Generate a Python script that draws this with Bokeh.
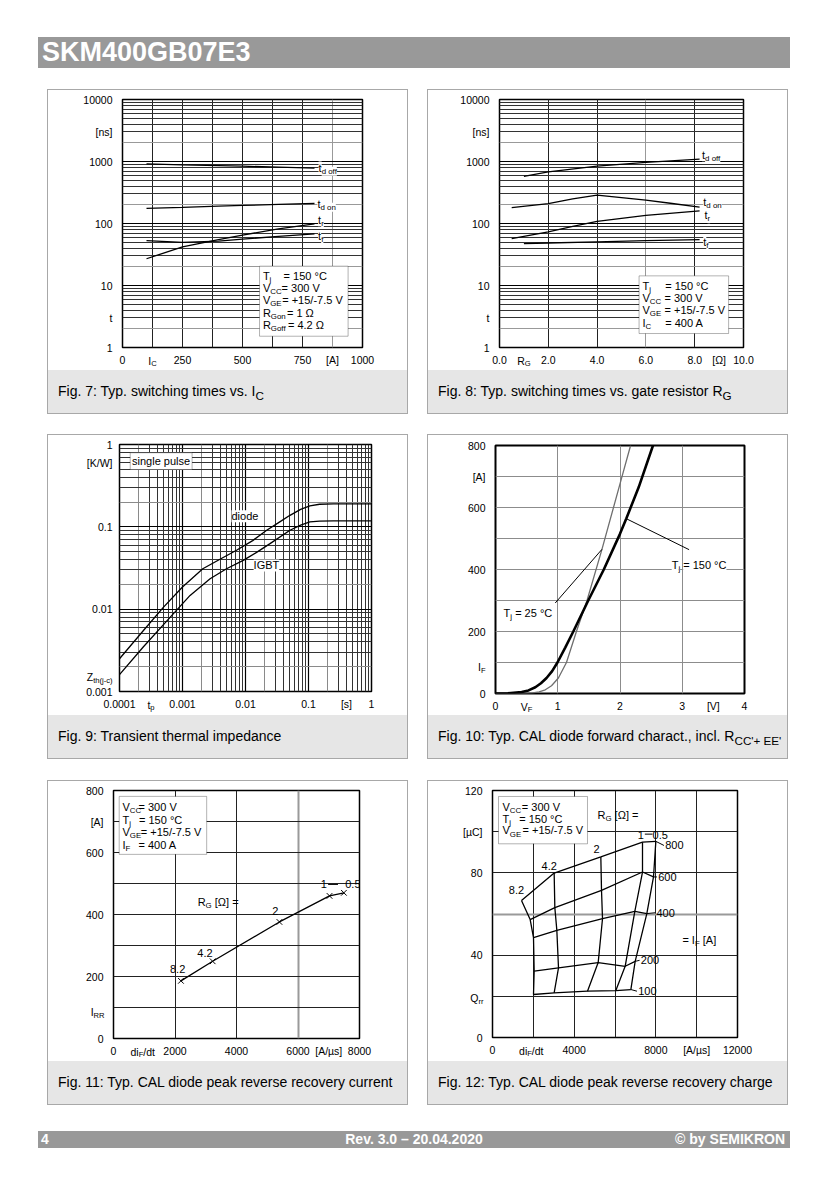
import math
from bokeh.plotting import figure
from bokeh.models import Label, BoxAnnotation, FixedTicker, Grid, Div, Range1d
from bokeh.layouts import column, row
from bokeh.embed import file_html
from bokeh.resources import INLINE

FONT = "Liberation Sans"
TICK = 10.5
TXT = 11

# ---------------- data ----------------
# Fig. 7  switching times vs I_C (Tj=150C)
ic_A = [100, 250, 400, 500, 650, 800]
td_off_ic = [916, 880, 855, 840, 810, 780]
td_on_ic = [175, 182, 190, 196, 203, 210]
tr_ic = [27, 42, 55, 65, 82, 99]
tf_ic = [53, 49.5, 52, 56, 62, 68]

# Fig. 8  switching times vs R_G
rg_off = [1, 2, 4, 6, 8.2]
td_off_rg = [575, 680, 841, 966, 1090]
rg_on = [0.5, 2, 3, 4, 5, 6, 7, 8.2]
td_on_rg = [180, 210, 250, 286, 262, 238, 212, 183]
rg_r = [0.5, 2, 3, 4, 6, 8.2]
tr_rg = [57, 73, 90, 108, 135, 160]
rg_f = [1, 2, 4, 6, 8.2]
tf_rg = [47.5, 48.5, 50.5, 53, 55]

# Fig. 9  transient thermal impedance
tp_diode = [1e-4, 2.4e-4, 5e-4, 1e-3, 2.1e-3, 4e-3, 7.2e-3, 1.3e-2, 2.17e-2, 3.5e-2,
            5.08e-2, 7.5e-2, 0.105, 0.15, 0.25, 1]
zth_diode = [0.0025, 0.0055, 0.0106, 0.0186, 0.031, 0.0407, 0.052, 0.068, 0.091, 0.115,
             0.138, 0.163, 0.18, 0.188, 0.19, 0.19]
tp_igbt = [1e-4, 2.4e-4, 6.4e-4, 1.32e-3, 2.74e-3, 5e-3, 9.2e-3, 1.5e-2, 2.45e-2, 5.08e-2,
           7.5e-2, 0.105, 0.15, 0.25, 1]
zth_igbt = [0.0016, 0.0035, 0.008, 0.0147, 0.0234, 0.031, 0.0392, 0.049, 0.0625, 0.0908,
            0.105, 0.1146, 0.117, 0.118, 0.118]

# Fig. 10  diode forward characteristic
vf_25 = [0, 0.45, 0.6, 0.7, 0.8, 0.9, 1.01, 1.14, 1.30, 1.47, 1.71, 2.0, 2.17]
if_25 = [0, 0, 2, 5, 12, 25, 50, 100, 200, 300, 465, 676, 800]
vf_150 = [0, 0.2, 0.42, 0.53, 0.64, 0.73, 0.82, 0.91, 0.995, 1.12, 1.25, 1.37, 1.49,
          1.74, 2.0, 2.1, 2.3, 2.53]
if_150 = [0, 0.5, 5, 10, 20, 33, 50, 72, 100, 148, 200, 250, 300,
          400, 515, 564, 665, 800]

# Fig. 11  peak reverse recovery current
rg_names = ["8.2", "4.2", "2", "1", "0.5"]
didt_irr = [2193, 3225, 5396, 7025, 7492]
irr = [186, 249, 376, 460, 470]

# Fig. 12  reverse recovery charge (rows: I_F, columns: R_G = 8.2, 4.2, 2, 1, 0.5)
if_levels = ["100", "200", "400", "600", "800"]
didt_100 = [2008, 3020, 4653, 6041, 6776]
qrr_100 = [20.9, 21.7, 22.5, 22.8, 23.3]
didt_200 = [2041, 3233, 5176, 6498, 6988]
qrr_200 = [32.2, 33.8, 36.4, 34.6, 37.0]
didt_400 = [2008, 3151, 5388, 6971, 7559]
qrr_400 = [48.5, 52.1, 57.7, 61.3, 60.2]
didt_600 = [1845, 3053, 5339, 7347, 7886]
qrr_600 = [57.3, 63.1, 71.5, 80.4, 78.0]
didt_800 = [1420, 3020, 5306, 7347, 8000]
qrr_800 = [66.6, 79.9, 87.7, 94.9, 95.3]

# tick labels
f7_xticks = [0, 250, 500, 750, 875, 1000]
f7_xlabels = ["0", "250", "500", "750", "[A]", "1000"]
ft_yticks = [1, 3, 10, 100, 1000, 3000, 10000]
ft_ylabels = ["1", "t", "10", "100", "1000", "[ns]", "10000"]
f8_xticks = [0, 2, 4, 6, 8, 9, 10]
f8_xlabels = ["0.0", "2.0", "4.0", "6.0", "8.0", "[\u03a9]", "10.0"]
f9_xticks = [0.0001, 0.001, 0.01, 0.1, 0.4, 1]
f9_xlabels = ["0.0001", "0.001", "0.01", "0.1", "[s]", "1"]
f9_yticks = [0.001, 0.01, 0.1, 0.6, 1]
f9_ylabels = ["0.001", "0.01", "0.1", "[K/W]", "1"]
f10_xticks = [0, 1, 2, 3, 3.5, 4]
f10_xlabels = ["0", "1", "2", "3", "[V]", "4"]
f10_yticks = [0, 200, 400, 600, 700, 800]
f10_ylabels = ["0", "200", "400", "600", "[A]", "800"]
f11_xticks = [0, 2000, 4000, 6000, 7000, 8000]
f11_xlabels = ["0", "2000", "4000", "6000", "[A/\u00b5s]", "8000"]
f11_yticks = [0, 200, 400, 600, 700, 800]
f11_ylabels = ["0", "200", "400", "600", "[A]", "800"]
f12_xticks = [0, 4000, 8000, 10000, 12000]
f12_xlabels = ["0", "4000", "8000", "[A/\u00b5s]", "12000"]
f12_yticks = [0, 40, 80, 100, 120]
f12_ylabels = ["0", "40", "80", "[\u00b5C]", "120"]

# ---------------- helpers ----------------
CW = {' ': 278, '!': 278, '(': 333, ')': 333, '+': 584, '-': 333, '.': 278, '/': 278,
      ':': 278, '=': 584, "'": 191, '[': 278, ']': 278, '\u00b0': 400, '\u03a9': 768,
      '\u00b5': 576, '\u2013': 556,
      'A': 667, 'B': 667, 'C': 722, 'D': 722, 'E': 667, 'F': 611, 'G': 778, 'H': 722,
      'I': 278, 'J': 500, 'K': 667, 'L': 556, 'M': 833, 'N': 722, 'O': 778, 'P': 667,
      'Q': 778, 'R': 722, 'S': 667, 'T': 611, 'U': 722, 'V': 667, 'W': 944, 'X': 667,
      'Y': 667, 'Z': 611, 'a': 556, 'b': 556, 'c': 500, 'd': 556, 'e': 556, 'f': 278,
      'g': 556, 'h': 556, 'i': 222, 'j': 222, 'k': 500, 'l': 222, 'm': 833, 'n': 556,
      'o': 556, 'p': 556, 'q': 556, 'r': 333, 's': 500, 't': 278, 'u': 556, 'v': 500,
      'w': 722, 'x': 500, 'y': 500, 'z': 500}


def tw(s, size):
    return sum(CW.get(c, 556) for c in s) * size / 1000.0


def lbl(p, x, y, text, size=TXT, align="left", xo=0, yo=0, bg=None, color="black", side=None):
    kw = dict(background_fill_color=bg, background_fill_alpha=1.0) if bg else {}
    lab = Label(x=x, y=y, text=text, x_offset=xo, y_offset=yo, text_font=FONT,
                text_font_size=f"{size}px", text_align=align, text_baseline="middle",
                text_color=color, **kw)
    if side:
        p.add_layout(lab, side)
    else:
        p.add_layout(lab)


def rich(p, x, y, parts, size=TXT, align="left", xo=0, yo=0, bg=None, side=None):
    items = []
    for t, s in parts:
        fs = size * 0.72 if s else size
        st = t.lstrip(" ")
        items.append((st, fs, s, tw(t[:len(t) - len(st)], fs), tw(st, fs)))
    tot = sum(i[3] + i[4] for i in items)
    cur = xo - {"left": 0, "center": tot / 2, "right": tot}[align]
    for t, fs, s, lead, w in items:
        cur += lead
        if t:
            lbl(p, x, y, t, round(fs, 1), "left", cur, yo - (0.33 * size if s else 0),
                bg=bg, side=side)
        cur += w


def jskey(v):
    return str(int(v)) if float(v).is_integer() else repr(float(v))


def overrides(ticks, labels):
    d = {}
    for t, l in zip(ticks, labels):
        d[t] = l
        d[jskey(t)] = l
    return d


def mkfig(xr, yr, xt, yt, left, fw, top, fh, W=359, H=280):
    p = figure(x_range=xr, y_range=yr, x_axis_type=xt, y_axis_type=yt,
               frame_width=fw, frame_height=fh,
               min_border_left=left, min_border_right=W - left - fw,
               min_border_top=top, min_border_bottom=H - top - fh,
               output_backend="svg", toolbar_location=None, title=None)
    p.background_fill_color = "white"
    p.border_fill_color = "white"
    p.outline_line_color = "black"
    p.outline_line_width = 1.5
    p.xgrid.visible = False
    p.ygrid.visible = False
    return p


def setup(p, xt, xl, yt, yl, ystand=10):
    p.xaxis.ticker = FixedTicker(ticks=xt)
    p.xaxis.major_label_overrides = overrides(xt, xl)
    p.yaxis.ticker = FixedTicker(ticks=yt)
    p.yaxis.major_label_overrides = overrides(yt, yl)
    for ax in (p.xaxis[0], p.yaxis[0]):
        ax.axis_line_color = None
        ax.major_tick_line_color = None
        ax.minor_tick_line_color = None
        ax.major_tick_out = 0
        ax.major_tick_in = 0
        ax.minor_tick_out = 0
        ax.minor_tick_in = 0
        ax.major_label_text_font = FONT
        ax.major_label_text_font_size = f"{TICK}px"
        ax.major_label_text_color = "black"
    p.xaxis.major_label_standoff = 6
    p.yaxis.major_label_standoff = ystand


def xsub(p, x, y, parts):
    # subscripted tick label under the frame (kept in the side panel so it is not clipped)
    rich(p, x, y, parts, TICK, "center", yo=-13, side="right")


def ysub(p, x, y, parts, stand=10):
    rich(p, x, y, parts, TICK, "right", xo=-stand, side="right")


def grid(p, dim, ticks, color, width=1.0):
    p.add_layout(Grid(dimension=dim, ticker=FixedTicker(ticks=ticks),
                      grid_line_color=color, grid_line_width=width))


def logs(e0, e1, mults):
    return [m * 10.0 ** e for e in range(e0, e1) for m in mults]


def box(p, l, r, b, t):
    p.add_layout(BoxAnnotation(left=l, right=r, bottom=b, top=t, fill_color="white",
                               fill_alpha=1.0, line_color="black", line_width=1))


def seg(p, x0, y0, x1, y1, w=1):
    p.segment(x0=[x0], y0=[y0], x1=[x1], y1=[y1], line_color="black", line_width=w)


def legline(p, x, y, name, sub, rest, eq_px, size=TXT):
    rich(p, x, y, [(name, 0), (sub, 1)], size)
    lbl(p, x, y, rest, size, "left", eq_px)


CAP_STYLE = {"background-color": "#e6e6e6", "font-family": FONT, "font-size": "14px",
             "line-height": "43px", "text-indent": "10px", "white-space": "nowrap",
             "color": "black", "overflow": "hidden"}


def panel(fig, cap):
    c = Div(text=cap, width=359, height=43, margin=0, styles=CAP_STYLE)
    return column(fig, c, spacing=0, margin=0,
                  styles={"border": "1px solid #a8a8a8", "background-color": "white"})


LW = 1.3

# ---------------- Fig 7 ----------------
p7 = mkfig(Range1d(0, 1000), Range1d(1, 10000), "linear", "log", 74, 240, 9, 248)
setup(p7, f7_xticks, f7_xlabels, ft_yticks, ft_ylabels)
grid(p7, 0, [125, 250, 375, 500, 625, 750], "#222222")
grid(p7, 0, [875], "#999999")
grid(p7, 1, logs(0, 4, [3, 4, 5, 6, 7, 8, 9]), "#333333")
grid(p7, 1, logs(0, 4, [2]), "#999999")
grid(p7, 1, [10, 100, 1000], "#000000", 1.2)
for ys in (td_off_ic, td_on_ic, tr_ic, tf_ic):
    p7.line(ic_A, ys, line_color="black", line_width=LW)
xsub(p7, 125, 1, [("I", 0), ("C", 1)])
rich(p7, 817, 800, [("t", 0), ("d off", 1)], TXT, bg="white")
rich(p7, 812, 210, [("t", 0), ("d on", 1)], TXT, bg="white")
rich(p7, 815, 113, [("t", 0), ("r", 1)], TXT, bg="white")
rich(p7, 815, 63, [("t", 0), ("f", 1)], TXT, bg="white")
box(p7, 571, 940, 1.52, 20.5)
legline(p7, 585, 14.1, "T", "j", "= 150 \u00b0C", 20.7)
legline(p7, 585, 9.2, "V", "CC", "= 300 V", 18.7)
legline(p7, 585, 5.8, "V", "GE", "= +15/-7.5 V", 19.3)
legline(p7, 585, 3.62, "R", "Gon", "= 1 \u03a9", 24)
legline(p7, 585, 2.29, "R", "Goff", "= 4.2 \u03a9", 25)

# ---------------- Fig 8 ----------------
p8 = mkfig(Range1d(0, 10), Range1d(1, 10000), "linear", "log", 71, 244, 9, 248)
setup(p8, f8_xticks, f8_xlabels, ft_yticks, ft_ylabels)
grid(p8, 0, [2, 4, 8], "#222222")
grid(p8, 0, [6], "#999999")
grid(p8, 1, logs(0, 4, [3, 4, 5, 6, 7, 8, 9]), "#333333")
grid(p8, 1, logs(0, 4, [2]), "#999999")
grid(p8, 1, [10, 100, 1000], "#000000", 1.2)
p8.line(rg_off, td_off_rg, line_color="black", line_width=LW)
p8.line(rg_on, td_on_rg, line_color="black", line_width=LW)
p8.line(rg_r, tr_rg, line_color="black", line_width=LW)
p8.line(rg_f, tf_rg, line_color="black", line_width=LW)
xsub(p8, 1.0, 1, [("R", 0), ("G", 1)])
rich(p8, 8.3, 1262, [("t", 0), ("d off", 1)], TXT, bg="white")
rich(p8, 8.35, 223, [("t", 0), ("d on", 1)], TXT, bg="white")
rich(p8, 8.4, 136, [("t", 0), ("r", 1)], TXT, bg="white")
rich(p8, 8.35, 50.5, [("t", 0), ("f", 1)], TXT, bg="white")
box(p8, 5.72, 9.39, 1.68, 14.3)
legline(p8, 5.86, 10.0, "T", "j", "= 150 \u00b0C", 22.7)
legline(p8, 5.86, 6.3, "V", "CC", "= 300 V", 22)
legline(p8, 5.86, 4.0, "V", "GE", "= +15/-7.5 V", 22)
legline(p8, 5.86, 2.47, "I", "C", "= 400 A", 22.7)

# ---------------- Fig 9 ----------------
p9 = mkfig(Range1d(1e-4, 1), Range1d(1e-3, 1), "log", "log", 71, 252, 9, 247)
setup(p9, f9_xticks, f9_xlabels, f9_yticks, f9_ylabels, ystand=7)
grid(p9, 0, logs(-4, 0, [3, 4, 5, 6, 7, 8, 9]), "#333333")
grid(p9, 0, logs(-4, 0, [2]), "#8a8a8a")
grid(p9, 0, [1e-3, 1e-2, 1e-1], "#000000", 1.2)
grid(p9, 1, logs(-3, 0, [3, 4, 5, 6, 7, 8, 9]), "#333333")
grid(p9, 1, logs(-3, 0, [2]), "#8a8a8a")
grid(p9, 1, [1e-2, 1e-1], "#000000", 1.2)
p9.line(tp_diode, zth_diode, line_color="black", line_width=LW)
p9.line(tp_igbt, zth_igbt, line_color="black", line_width=LW)
xsub(p9, 10 ** -3.5, 1e-3, [("t", 0), ("p", 1)])
ysub(p9, 1e-4, 0.0015, [("Z", 0), ("th(j-c)", 1)], 7)
lbl(p9, 0.0098, 0.134, "diode", TXT, "center", bg="white")
lbl(p9, 0.0215, 0.034, "IGBT", TXT, "center", bg="white")
box(p9, 1.48e-4, 1.42e-3, 0.497, 0.794)
lbl(p9, 4.57e-4, 0.627, "single pulse", TXT, "center")

# ---------------- Fig 10 ----------------
p10 = mkfig(Range1d(0, 4), Range1d(0, 800), "linear", "linear", 67, 249, 10, 248)
setup(p10, f10_xticks, f10_xlabels, f10_yticks, f10_ylabels)
p10.outline_line_width = 2
grid(p10, 0, [1, 2, 3], "#8c8c8c")
grid(p10, 1, [100, 200, 300, 400, 500, 600, 700], "#8c8c8c")
p10.line(vf_25, if_25, line_color="#6e6e6e", line_width=1.3)
p10.line(vf_150, if_150, line_color="black", line_width=2.6)
xsub(p10, 0.5, 0, [("V", 0), ("F", 1)])
ysub(p10, 0, 85, [("I", 0), ("F", 1)])
seg(p10, 2.10, 564, 3.11, 464)
seg(p10, 1.71, 465, 0.96, 292)
rich(p10, 2.83, 414, [("T", 0), ("j", 1), (" = 150 \u00b0C", 0)], TXT, bg="white")
rich(p10, 0.13, 260, [("T", 0), ("j", 1), (" = 25 \u00b0C", 0)], TXT, bg="white")

# ---------------- Fig 11 ----------------
p11 = mkfig(Range1d(0, 8000), Range1d(0, 800), "linear", "linear", 65, 246, 9, 248)
setup(p11, f11_xticks, f11_xlabels, f11_yticks, f11_ylabels)
grid(p11, 0, [2000, 4000], "#222222")
grid(p11, 0, [6000], "#9a9a9a", 2)
grid(p11, 1, [100, 200, 300, 400, 500, 600, 700], "#222222")
p11.line(didt_irr, irr, line_color="black", line_width=LW)
p11.scatter(didt_irr, irr, marker="x", size=8, line_color="black", line_width=1)
xsub(p11, 950, 0, [("di", 0), ("F", 1), ("/dt", 0)])
ysub(p11, 0, 85, [("I", 0), ("RR", 1)], 9)
lbl(p11, 2085, 225, rg_names[0], TXT, "center")
lbl(p11, 2975, 277, rg_names[1], TXT, "center")
lbl(p11, 5266, 410, rg_names[2], TXT, "center")
lbl(p11, 6840, 497, rg_names[3], TXT, "center")
lbl(p11, 7785, 497, rg_names[4], TXT, "center")
seg(p11, 6980, 497, 7300, 497)
rich(p11, 2736, 440, [("R", 0), ("G", 1), (" [\u03a9] =", 0)], TXT)
box(p11, 185, 3030, 594, 781)
legline(p11, 293, 746, "V", "CC", "= 300 V", 16)
legline(p11, 293, 705, "T", "j", "= 150 \u00b0C", 16.5)
legline(p11, 293, 666, "V", "GE", "= +15/-7.5 V", 18.3)
legline(p11, 293, 625, "I", "F", "= 400 A", 16)

# ---------------- Fig 12 ----------------
p12 = mkfig(Range1d(0, 12000), Range1d(0, 120), "linear", "linear", 64, 245, 9, 247)
setup(p12, f12_xticks, f12_xlabels, f12_yticks, f12_ylabels)
grid(p12, 0, [2000, 4000, 6000, 8000, 10000], "#222222")
grid(p12, 1, [20, 40, 80, 100], "#222222")
grid(p12, 1, [60], "#9a9a9a", 2)
rows_x = [didt_100, didt_200, didt_400, didt_600, didt_800]
rows_y = [qrr_100, qrr_200, qrr_400, qrr_600, qrr_800]
for xs, ys in zip(rows_x, rows_y):
    p12.line(xs, ys, line_color="black", line_width=LW)
for j in range(len(rg_names)):
    p12.line([r[j] for r in rows_x], [r[j] for r in rows_y], line_color="black", line_width=LW)
xsub(p12, 1900, 0, [("di", 0), ("F", 1), ("/dt", 0)])
ysub(p12, 0, 19, [("Q", 0), ("rr", 1)], 9)
lab_pos = [(7135, 22.5), (7265, 37.5), (8033, 60.6), (8114, 78.0), (8457, 93.3)]
for (lx, ly), xs, ys, name in zip(lab_pos, rows_x, rows_y, if_levels):
    seg(p12, xs[-1], ys[-1], lx - 60, ly)
    lbl(p12, lx, ly, name, TXT, "left")
lbl(p12, 1176, 71.5, rg_names[0], TXT, "center")
lbl(p12, 2776, 83.3, rg_names[1], TXT, "center")
lbl(p12, 5094, 91.7, rg_names[2], TXT, "center")
lbl(p12, 7265, 98.2, rg_names[3], TXT, "center")
lbl(p12, 8212, 98.5, rg_names[4], TXT, "center")
seg(p12, 7461, 98.8, 7837, 98.8)
rich(p12, 9300, 47.5, [("= I", 0), ("F", 1), (" [A]", 0)], TXT)
rich(p12, 5140, 108.2, [("R", 0), ("G", 1), (" [\u03a9] =", 0)], TXT)
box(p12, 294, 4653, 94.1, 117.1)
legline(p12, 490, 111.9, "V", "CC", "= 300 V", 19.3)
legline(p12, 490, 106.3, "T", "j", "= 150 \u00b0C", 16.7)
legline(p12, 490, 100.6, "V", "GE", "= +15/-7.5 V", 20)

# ---------------- page ----------------
header = Div(text="SKM400GB07E3", width=752, height=31, margin=0,
             styles={"background-color": "#999999", "color": "white", "font-family": FONT,
                     "font-weight": "bold", "font-size": "27px", "line-height": "31px",
                     "text-indent": "4px", "white-space": "nowrap", "overflow": "hidden"})
footer = Div(text=("<div style='position:relative;width:752px;height:17px;'>"
                   "<span style='position:absolute;left:3px;top:0'>4</span>"
                   "<span style='position:absolute;left:0;right:0;top:0;text-align:center'>"
                   "Rev. 3.0 \u2013 20.04.2020</span>"
                   "<span style='position:absolute;right:5px;top:0'>\u00a9 by SEMIKRON</span></div>"),
             width=752, height=17, margin=(26, 0, 0, 0),
             styles={"background-color": "#999999", "color": "white", "font-family": FONT,
                     "font-weight": "bold", "font-size": "14px", "line-height": "17px",
                     "white-space": "nowrap", "overflow": "hidden"})

r1 = row(panel(p7, "Fig. 7: Typ. switching times vs. I<sub>C</sub>"),
         panel(p8, "Fig. 8: Typ. switching times vs. gate resistor R<sub>G</sub>"),
         spacing=19, margin=(21, 0, 0, 9))
r2 = row(panel(p9, "Fig. 9: Transient thermal impedance"),
         panel(p10, "Fig. 10: Typ. CAL diode forward charact., incl. R<sub>CC'+ EE'</sub>"),
         spacing=19, margin=(20, 0, 0, 9))
r3 = row(panel(p11, "Fig. 11: Typ. CAL diode peak reverse recovery current"),
         panel(p12, "Fig. 12: Typ. CAL diode peak reverse recovery charge"),
         spacing=19, margin=(21, 0, 0, 9))

root = column(header, r1, r2, r3, footer, spacing=0, margin=(37, 0, 0, 38))
open("out.html", "w").write(file_html(root, INLINE))
